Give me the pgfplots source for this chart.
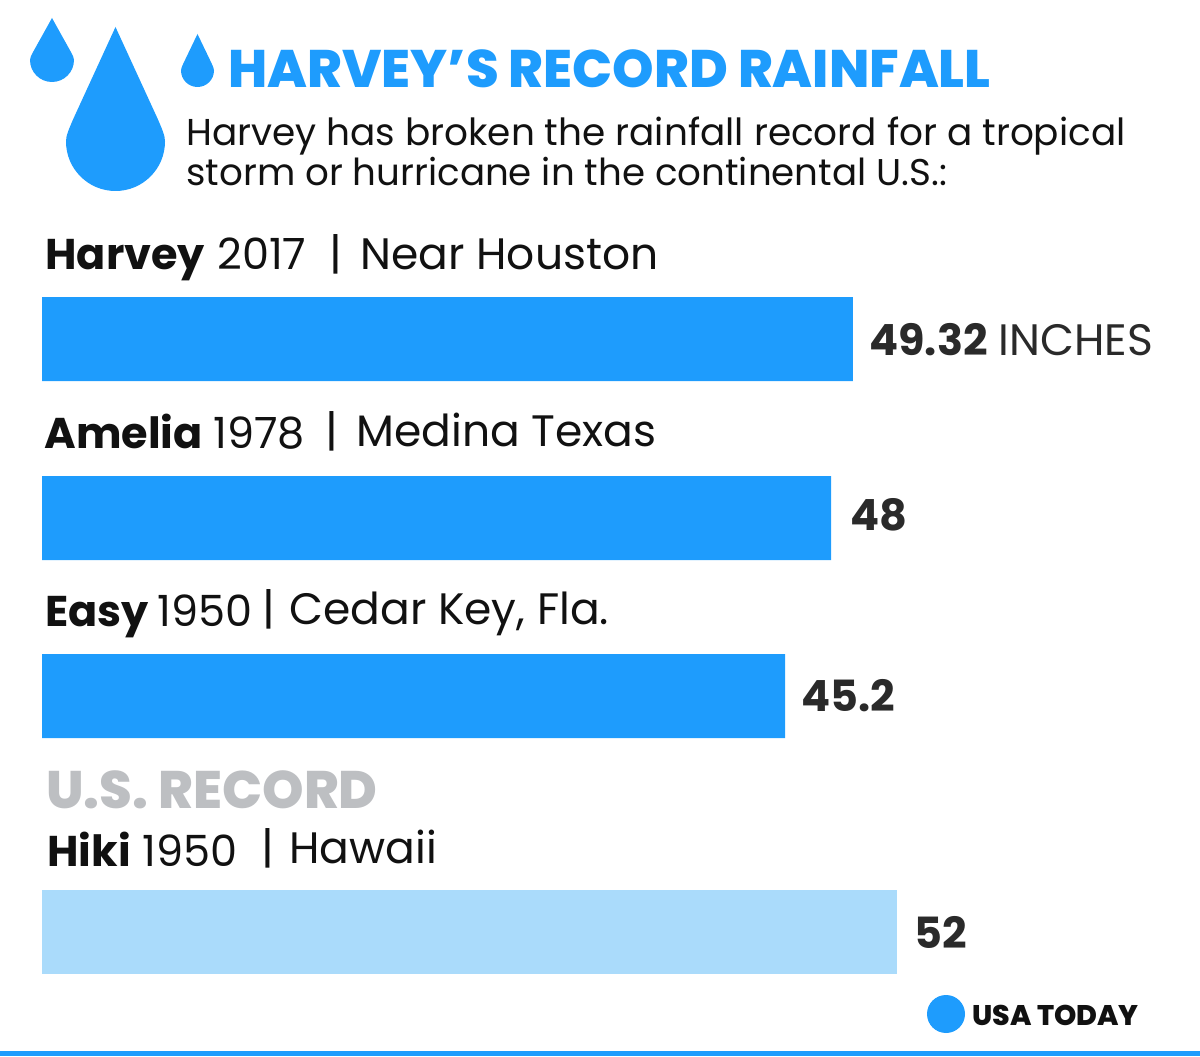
\documentclass[border=0pt]{standalone}
\usepackage{pgfplots}
\pgfplotsset{compat=1.18}
\usepackage{fontspec}
\setmainfont{Poppins}
\newfontfamily\heavy{Poppins ExtraBold}
\definecolor{dropblue}{HTML}{1E9CFD}
\definecolor{lightblue}{HTML}{AADBFB}
\definecolor{inkdark}{HTML}{2A2A2A}
\definecolor{inkblack}{HTML}{111111}
\definecolor{recgray}{HTML}{BDBFC2}
% px to picture coords, image is 1200x1056 at .5pt per px
\def\PX(#1,#2){({(#1)*0.5pt},{(1056-(#2))*0.5pt})}
% drop: centre x, tip y, half width, bottom y
\newcommand{\drop}[4]{%
  \fill[dropblue] \PX({#1},{#2})
    -- \PX({#1+0.85*#3},{#2+0.80*(#4-#3-#2)})
    .. controls \PX({#1+0.95*#3},{#2+0.90*(#4-#3-#2)}) and \PX({#1+#3},{#2+0.95*(#4-#3-#2)}) .. \PX({#1+#3},{#4-#3})
    arc[start angle=0,end angle=-180,radius={#3*0.5pt}]
    .. controls \PX({#1-#3},{#2+0.95*(#4-#3-#2)}) and \PX({#1-0.95*#3},{#2+0.90*(#4-#3-#2)}) .. \PX({#1-0.85*#3},{#2+0.80*(#4-#3-#2)})
    -- cycle;}
\newcommand{\lab}[3]{\node[anchor=base west,inner sep=0pt,text=inkblack,font=\fontsize{21.5}{24}\selectfont] at \PX(#1,#2) {#3};}
\newcommand{\place}[3]{\node[anchor=base west,inner sep=0pt,text=inkblack,font=\fontsize{22}{24}\selectfont] at \PX(#1,#2) {#3};}
\newcommand{\val}[3]{\node[anchor=base west,inner sep=0pt,text=inkdark,font=\fontsize{21.5}{24}\selectfont] at \PX(#1,#2) {#3};}
\begin{document}
\begin{tikzpicture}
\path[use as bounding box] (0,0) rectangle (600pt,528pt);
\begin{axis}[
  at={(0,0)},anchor=south west,
  scale only axis,width=600pt,height=528pt,
  hide axis,
  xmin=-2.555,xmax=70.44,
  ymin=0,ymax=1056,y dir=reverse,
  xbar,bar width=42pt,
]
\addplot[draw=none,fill=dropblue,bar shift=0pt] coordinates {(49.32,339) (48,518) (45.2,696)};
\addplot[draw=none,fill=lightblue,bar shift=0pt] coordinates {(52,932)};
\end{axis}
\fill[dropblue] \PX(0,1051) rectangle \PX(1200,1056);
\drop{52}{18}{22}{82}
\drop{115.5}{27}{49.5}{191}
\drop{197.5}{34}{16.5}{87}
\fill[dropblue] \PX(946,1014) circle[radius=9.5pt];
\node[anchor=base west,inner sep=0pt,text=dropblue,font=\fontsize{26.4}{28}\heavy] at \PX(228,88) {HARVEY’S RECORD RAINFALL};
\node[anchor=base west,inner sep=0pt,text=inkblack,font=\fontsize{18.7}{20}\selectfont] at \PX(186,146) {Harvey has broken the rainfall record for a tropical};
\node[anchor=base west,inner sep=0pt,text=inkblack,font=\fontsize{18.6}{20}\selectfont] at \PX(186,186) {storm or hurricane in the continental U.S.:};
\lab{45}{270}{\textbf{Harvey}} \lab{217}{270}{2017} \place{329}{270}{|} \place{360}{270}{Near Houston}
\lab{44}{449}{\textbf{Amelia}} \lab{213}{449}{1978} \place{325}{447}{|} \place{356}{447}{Medina Texas}
\lab{45}{627}{\textbf{Easy}} \lab{157}{627}{1950} \place{262}{625}{|} \place{289}{625}{Cedar Key, Fla.}
\lab{47}{866}{\textbf{Hiki}} \lab{142}{866}{1950} \place{261}{864}{|} \place{289}{864}{Hawaii}
\node[anchor=base west,inner sep=0pt,text=recgray,font=\fontsize{26.4}{28}\heavy] at \PX(46,808) {U.S. RECORD};
\val{869}{356}{\textbf{49.32}} \val{998}{356}{\fontsize{22}{24}\selectfont INCHES}
\val{850}{531}{\textbf{48}}
\val{801}{712}{\textbf{45.2}}
\val{914}{948}{\textbf{52}}
\node[anchor=base west,inner sep=0pt,text=inkblack,font=\fontsize{14.2}{16}\heavy] at \PX(972,1025) {USA TODAY};
\end{tikzpicture}
\end{document}
